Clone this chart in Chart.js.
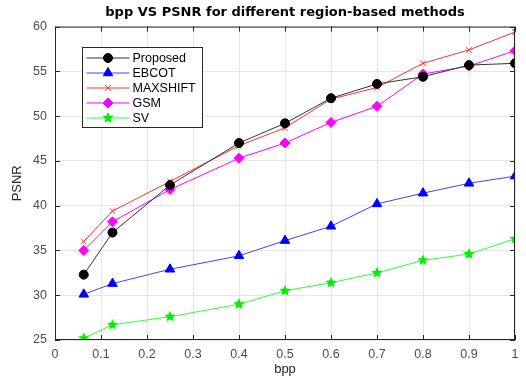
<!DOCTYPE html>
<html>
<head>
<meta charset="utf-8">
<script src="https://cdn.jsdelivr.net/npm/chart.js@4"></script>
<style>
  html, body { margin: 0; padding: 0; background: #fff; }
  #wrap { width: 526px; height: 377px; }
</style>
</head>
<body>
<div id="wrap"><canvas id="psnrChart"></canvas></div>
<script>
// bpp values (x)
const bpp = [0.0625, 0.125, 0.25, 0.4, 0.5, 0.6, 0.7, 0.8, 0.9, 1.0];

// PSNR per method
const proposed = [32.3, 37.0, 42.3, 47.0, 49.2, 52.0, 53.6, 54.4, 55.7, 55.9];
const ebcot    = [30.1, 31.3, 32.9, 34.4, 36.1, 37.7, 40.2, 41.4, 42.5, 43.3];
const maxshift = [36.0, 39.4, 42.7, 46.7, 48.7, 51.9, 53.2, 55.9, 57.4, 59.4];
const gsm      = [35.0, 38.2, 41.8, 45.3, 47.0, 49.3, 51.1, 54.7, 55.6, 57.3];
const sv       = [25.2, 26.7, 27.6, 29.0, 30.5, 31.4, 32.5, 33.9, 34.6, 36.3];

const xTicks = [0, 0.1, 0.2, 0.3, 0.4, 0.5, 0.6, 0.7, 0.8, 0.9, 1];
const yTicks = [25, 30, 35, 40, 45, 50, 55, 60];

const FONT = 'Arial, "Liberation Sans", sans-serif';

// filled five point star, used as a point image
function makeStar(color, r) {
    const c = document.createElement('canvas');
    const s = Math.ceil(r * 2) + 2;
    c.width = s; c.height = s;
    const g = c.getContext('2d');
    g.fillStyle = color;
    g.beginPath();
    for (let i = 0; i < 10; i++) {
        const rr = i % 2 === 0 ? r : r * 0.45;
        const ang = -Math.PI / 2 + i * Math.PI / 5;
        const px = s / 2 + rr * Math.cos(ang), py = s / 2 + rr * Math.sin(ang);
        if (i === 0) g.moveTo(px, py); else g.lineTo(px, py);
    }
    g.closePath();
    g.fill();
    return c;
}

function pts(ys) {
    return bpp.map((x, i) => ({ x: x, y: ys[i] }));
}

function series(label, ys, line, fill, style, radius) {
    return {
        label: label,
        data: pts(ys),
        borderColor: line,
        backgroundColor: fill,
        borderWidth: 1,
        pointStyle: style,
        pointRadius: radius,
        pointHoverRadius: radius,
        pointBorderColor: fill,
        pointBackgroundColor: fill,
        pointBorderWidth: 1,
        tension: 0
    };
}

// box around the axes, inward ticks and the legend box inside the plot
const matlabFrame = {
    id: 'matlabFrame',
    afterDatasetsDraw(chart) {
        const ctx = chart.ctx;
        const a = chart.chartArea;
        const xs = chart.scales.x, ys = chart.scales.y;
        ctx.save();
        ctx.strokeStyle = '#262626';
        ctx.lineWidth = 1;
        ctx.strokeRect(a.left + 0.5, a.top + 0.5, a.right - a.left - 1, a.bottom - a.top - 1);
        ctx.beginPath();
        xTicks.forEach(v => {
            const p = Math.round(xs.getPixelForValue(v)) + 0.5;
            ctx.moveTo(p, a.bottom); ctx.lineTo(p, a.bottom - 5);
            ctx.moveTo(p, a.top); ctx.lineTo(p, a.top + 5);
        });
        yTicks.forEach(v => {
            const p = Math.round(ys.getPixelForValue(v)) + 0.5;
            ctx.moveTo(a.left, p); ctx.lineTo(a.left + 5, p);
            ctx.moveTo(a.right, p); ctx.lineTo(a.right - 5, p);
        });
        ctx.stroke();

        // legend
        const bx = 82.5, by = 47.5, bw = 120, bh = 80;
        ctx.fillStyle = '#fff';
        ctx.fillRect(bx, by, bw, bh);
        ctx.strokeStyle = '#262626';
        ctx.strokeRect(bx, by, bw, bh);
        ctx.font = '12.5px ' + FONT;
        ctx.textBaseline = 'middle';
        chart.data.datasets.forEach((ds, i) => {
            const y = by + 10.5 + i * 15;
            ctx.strokeStyle = ds.borderColor;
            ctx.lineWidth = 1;
            ctx.beginPath();
            ctx.moveTo(bx + 4, y); ctx.lineTo(bx + 47, y);
            ctx.stroke();
            ctx.fillStyle = ds.pointBackgroundColor;
            ctx.strokeStyle = ds.pointBorderColor;
            Chart.helpers.drawPoint(ctx, {
                pointStyle: ds.pointStyle, radius: ds.pointRadius, rotation: 0, borderWidth: 1
            }, bx + 25.5, y);
            ctx.fillStyle = '#000';
            ctx.fillText(ds.label, bx + 50, y + 1);
        });
        ctx.restore();
    }
};

const ctx = document.getElementById('psnrChart').getContext('2d');
const chart = new Chart(ctx, {
    type: 'line',
    data: {
        datasets: [
            series('Proposed', proposed, '#333333', '#000000', 'circle', 4.5),
            series('EBCOT', ebcot, '#4040ff', '#0000ff', 'triangle', 5.5),
            series('MAXSHIFT', maxshift, '#ff3030', '#ff3030', 'crossRot', 4),
            series('GSM', gsm, '#ff00ff', '#ff00ff', 'rectRot', 5),
            series('SV', sv, '#33ff33', '#00ee00', makeStar('#00ee00', 6), 6)
        ]
    },
    plugins: [matlabFrame],
    options: {
        responsive: true,
        maintainAspectRatio: false,
        animation: false,
        layout: { padding: { left: 0, right: 11, top: 0, bottom: 0 } },
        plugins: {
            legend: { display: false },
            tooltip: { enabled: false },
            title: {
                display: true,
                fullSize: false,
                text: 'bpp VS PSNR for different region-based methods',
                color: '#000',
                font: { family: '"DejaVu Sans", sans-serif', size: 13, weight: 'bold' },
                padding: { top: 5, bottom: 6 }
            }
        },
        scales: {
            x: {
                type: 'linear',
                min: 0, max: 1,
                afterBuildTicks(s) { s.ticks = xTicks.map(v => ({ value: v })); },
                afterFit(s) { s.height = 37; },
                grid: { color: '#e6e6e6', drawTicks: false },
                border: { display: false },
                ticks: {
                    color: '#4d4d4d',
                    font: { family: FONT, size: 12.5 },
                    padding: 7,
                    maxRotation: 0,
                    callback: v => String(v)
                },
                title: {
                    display: true, text: 'bpp', color: '#262626',
                    font: { family: FONT, size: 13 }, padding: { top: 0, bottom: 0 }
                }
            },
            y: {
                min: 25, max: 60,
                afterBuildTicks(s) { s.ticks = yTicks.map(v => ({ value: v })); },
                afterFit(s) { s.width = 55; },
                grid: { color: '#e6e6e6', drawTicks: false },
                border: { display: false },
                ticks: {
                    color: '#4d4d4d',
                    font: { family: FONT, size: 12.5 },
                    padding: 8
                },
                title: {
                    display: true, text: 'PSNR', color: '#262626',
                    font: { family: FONT, size: 13 }, padding: { top: 10, bottom: 4 }
                }
            }
        }
    }
});
</script>
</body>
</html>
